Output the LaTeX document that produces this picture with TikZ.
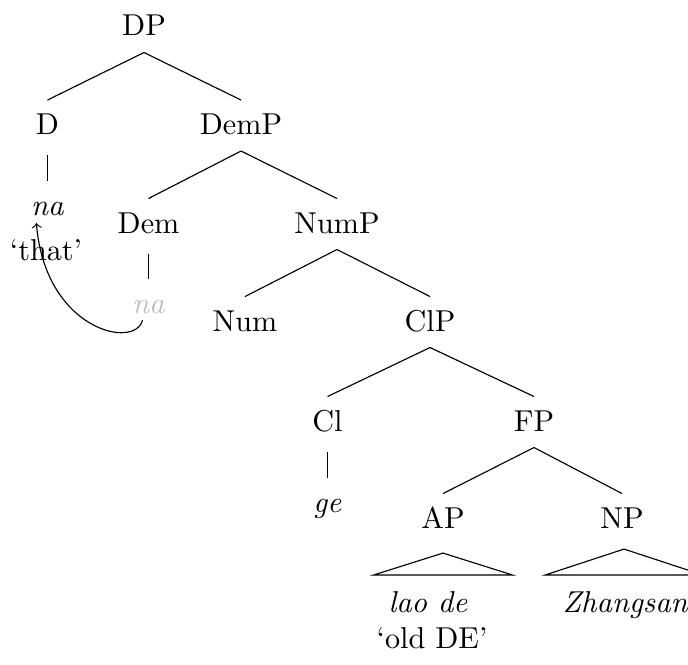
\documentclass[tikz,border=0pt]{standalone}
\usetikzlibrary{calc}
\definecolor{lightna}{RGB}{190,190,190}
\begin{document}
\begin{tikzpicture}[x=0.351pt,y=-0.351pt,
  lab/.style={anchor=base,inner sep=0pt,text height=11.9pt,text depth=5.6pt,font=\fontsize{10.6}{12.7}\selectfont},
  edge/.style={line width=0.4pt},
  unary/.style={line width=0.4pt,shorten <=1.4pt}]
\useasboundingbox (0,0) rectangle (688,664);
\clip (0,0) rectangle (688,664);
% nodes
\node[lab] (DP) at (144,36) {DP};
\node[lab] (D) at (47.5,134.5) {D};
\node[lab] (DemP) at (241,134.5) {DemP};
\node[lab] (na) at (47.5,215) {\textit{na}};
\node[lab] (that) at (46,260) {`that'};
\node[lab] (Dem) at (148.5,233) {Dem};
\node[lab] (NumP) at (337,233) {NumP};
\node[lab,text=lightna] (na2) at (148.5,313) {\textit{na}};
\node[lab] (Num) at (245,331) {Num};
\node[lab] (ClP) at (430,331) {ClP};
\node[lab] (Cl) at (327.5,431) {Cl};
\node[lab] (FP) at (534,431) {FP};
\node[lab] (ge) at (327.5,512) {\textit{ge}};
\node[lab] (AP) at (443,528) {AP};
\node[lab] (NP) at (622,528) {NP};
\node[lab] (laode) at (428,612) {\textit{lao de}};
\node[lab] (oldDE) at (432,648) {`old DE'};
\node[lab] (Zh) at (625.5,612) {\textit{Zhangsan}};
% branches
\draw[edge] (DP.south) -- (D.north);
\draw[edge] (DP.south) -- (DemP.north);
\draw[edge] (DemP.south) -- (Dem.north);
\draw[edge] (DemP.south) -- (NumP.north);
\draw[edge] (NumP.south) -- (Num.north);
\draw[edge] (NumP.south) -- (ClP.north);
\draw[edge] (ClP.south) -- (Cl.north);
\draw[edge] (ClP.south) -- (FP.north);
\draw[edge] (FP.south) -- (AP.north);
\draw[edge] (FP.south) -- (NP.north);
\draw[unary] (D.south) -- (na.north);
\draw[unary] (Dem.south) -- (na2.north);
\draw[unary] (Cl.south) -- (ge.north);
% triangles
\draw[edge] ($(AP.base)+(0,-8.8pt)$) -- ($(AP.base)+(-24.4pt,-16.5pt)$) -- ($(AP.base)+(24.4pt,-16.5pt)$) -- cycle;
\draw[edge] ($(NP.base)+(0.7pt,-7.4pt)$) -- ($(NP.base)+(-27pt,-16.5pt)$) -- ($(NP.base)+(28.4pt,-16.5pt)$) -- cycle;
% movement arrow
\coordinate (arrS) at ($(na2.base)+(-2.1pt,-2.5pt)$);
\coordinate (arrE) at ($(na.base)+(-3.9pt,-2.8pt)$);
\draw[edge,->] (arrS) .. controls (135,350) and (45,330) .. (arrE);
\end{tikzpicture}
\end{document}
